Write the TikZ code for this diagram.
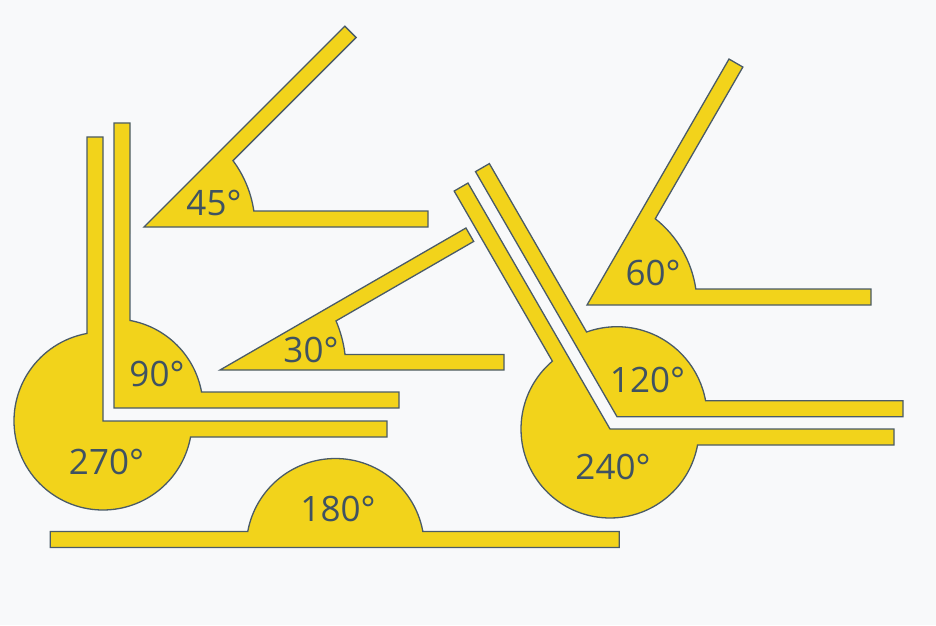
\documentclass[tikz,border=0pt]{standalone}
\usepackage{fontspec}
\setmainfont{Open Sans}
\usetikzlibrary{calc}
\definecolor{bgc}{HTML}{F8F9FA}
\definecolor{rulerc}{HTML}{F2D31B}
\definecolor{edgec}{HTML}{4A5B68}
\definecolor{inkc}{HTML}{3F5262}
\tikzset{
  rulershape/.style={fill=rulerc, draw=edgec, line width=1.3pt, line join=miter},
  deglabel/.style={text=inkc, font=\fontsize{35}{40}\selectfont, inner sep=0pt},
}
% #1 Vx, #2 Vy (pixels, y down), #3 start angle, #4 opening, #5 radius, #6 arm1 length, #7 arm2 length, #8 thickness
\newcommand\angleshape[8]{%
  \pgfmathsetmacro\aVy{625-#2}%
  \pgfmathsetmacro\abet{asin(#8/#5)}%
  \pgfmathsetmacro\asa{#3+\abet}%
  \pgfmathsetmacro\aea{#3+#4-\abet}%
  \pgfmathsetmacro\atb{#3+#4}%
  \pgfmathsetmacro\atc{#3+#4-90}%
  \pgfmathsetmacro\atn{#3+90}%
  \coordinate (V) at (#1,\aVy);
  \coordinate (P1) at ($(V)+(#3:#6)$);
  \coordinate (P2) at ($(P1)+(\atn:#8)$);
  \coordinate (P3) at ($(V)+(\asa:#5)$);
  \coordinate (P6) at ($(V)+(\atb:#7)$);
  \coordinate (P5) at ($(P6)+(\atc:#8)$);
  \draw[rulershape] (V) -- (P1) -- (P2) -- (P3)
     arc[start angle=\asa, end angle=\aea, radius=#5] -- (P5) -- (P6) -- cycle;
}
\begin{document}
\begin{tikzpicture}[x=1pt,y=1pt]
\fill[bgc] (0,0) rectangle (936,625);
\useasboundingbox (0,0) rectangle (936,625);

\angleshape{144}{227}{0}{45}{111}{284}{284}{16}
\angleshape{103}{421}{90}{270}{89}{284}{284}{16}
\angleshape{114}{408}{0}{90}{89}{285}{285}{16}
\angleshape{220}{370}{0}{30}{126}{284}{284}{15.5}
\angleshape{335.3}{547.5}{0}{180}{89}{284}{285}{16}
\angleshape{587}{305}{0}{60}{110}{284}{284}{16}
\angleshape{610}{429}{120}{240}{89}{284}{284}{16}
\angleshape{617}{416.7}{0}{120}{90}{286}{283}{16}

\node[deglabel] (l45) at (214,625-203) {45°};
\node[deglabel] (l30) at (311,625-350) {30°};
\node[deglabel] (l90) at (157,625-374) {90°};
\node[deglabel] (l270) at (106.5,625-461.5) {270°};
\node[deglabel] (l180) at (338,625-508.5) {180°};
\node[deglabel] (l60) at (653,625-273) {60°};
\node[deglabel] (l120) at (647.5,625-380) {120°};
\node[deglabel] (l240) at (613,625-467) {240°};
\end{tikzpicture}
\end{document}
